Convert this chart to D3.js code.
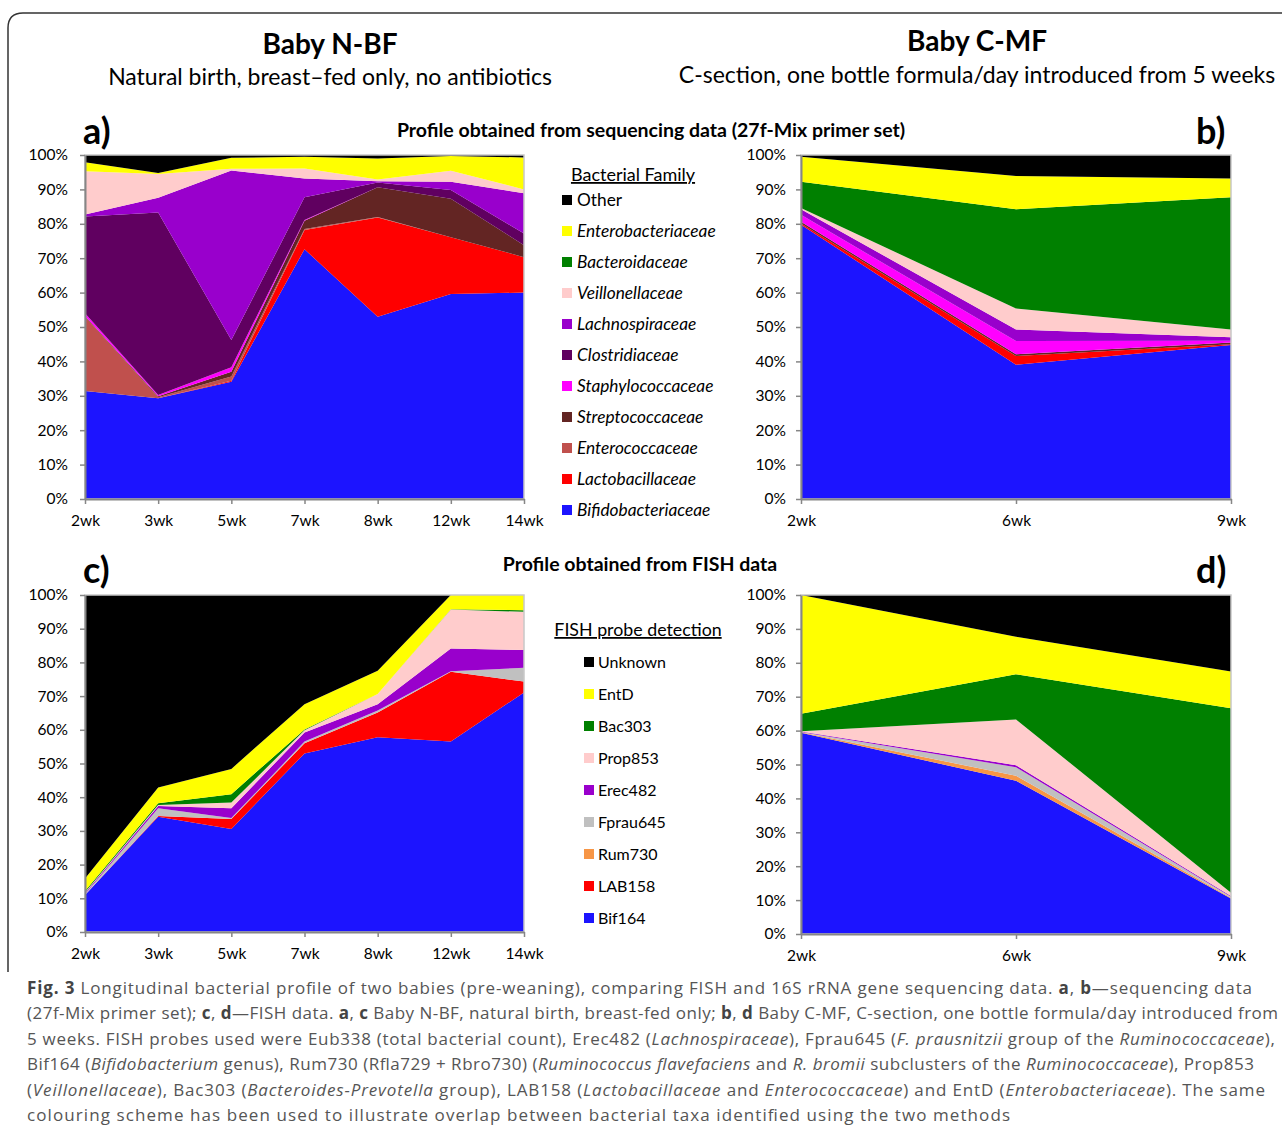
<!DOCTYPE html>
<html>
<head>
<meta charset="utf-8">
<script src="https://cdn.jsdelivr.net/npm/d3@7"></script>
<style>
  body { margin: 0; background: #fff; }
  svg text { font-family: Lato, "Open Sans", sans-serif; }
  .axis .domain { stroke: #868686; stroke-width: 2; }
  .axis .tick line { stroke: #868686; stroke-width: 1.5; }
  .axis .tick text { font-size: 15.5px; fill: #000; }
  .caption text { font-family: "Open Sans", sans-serif; font-size: 17px; fill: #555; }
</style>
</head>
<body>
<script>
// week categories
var weeksN = ["2wk", "3wk", "5wk", "7wk", "8wk", "12wk", "14wk"];
var weeksC = ["2wk", "6wk", "9wk"];

// sequencing families, bottom of the stack first
var families = ["Bifidobacteriaceae", "Lactobacillaceae", "Enterococcaceae", "Streptococcaceae",
    "Staphylococcaceae", "Clostridiaceae", "Lachnospiraceae", "Veillonellaceae",
    "Bacteroidaceae", "Enterobacteriaceae", "Other"];
var familyColours = ["#1c14ff", "#ff0000", "#c0504d", "#632523", "#ff00ff", "#600060",
    "#9900cc", "#ffcccc", "#008000", "#ffff00", "#000000"];

// a) Baby N-BF, sequencing (% per family, rows follow families)
var seqN = [
    [31.4, 29.3, 34.1, 72.6, 53.0, 59.6, 60.0],
    [0, 0, 0.3, 5.6, 28.8, 16.5, 10.3],
    [21.6, 0.3, 1.2, 0.3, 0.2, 0, 0],
    [0.2, 0.3, 1.4, 2.4, 8.6, 11.2, 3.5],
    [0.8, 0.3, 1.3, 0.2, 0, 0, 0],
    [28.1, 53.1, 7.9, 6.6, 1.4, 2.5, 3.4],
    [0.6, 4.3, 49.3, 5.5, 0.4, 2.4, 11.7],
    [12.6, 6.9, 0.5, 2.9, 0.5, 3.2, 1.1],
    [0, 0, 0, 0, 0, 0, 0],
    [2.6, 0.3, 3.2, 3.4, 6.1, 4.3, 9.3],
    [2.1, 5.2, 0.8, 0.5, 1.0, 0.3, 0.7]
];

// b) Baby C-MF, sequencing
var seqC = [
    [79.7, 39.0, 44.8],
    [0.4, 2.6, 0.2],
    [0, 0, 0],
    [0.5, 0.5, 0.5],
    [2.0, 3.8, 0.5],
    [0, 0, 0],
    [1.6, 3.4, 1.0],
    [0.4, 6.1, 2.3],
    [7.6, 28.8, 38.4],
    [7.3, 9.7, 5.5],
    [0.5, 6.1, 6.8]
];

// FISH probes, bottom of the stack first
var probes = ["Bif164", "LAB158", "Rum730", "Fprau645", "Erec482", "Prop853", "Bac303", "EntD", "Unknown"];
var probeColours = ["#1c14ff", "#ff0000", "#f79646", "#c0c0c0", "#9900cc", "#ffcccc", "#008000", "#ffff00", "#000000"];

// c) Baby N-BF, FISH
var fishN = [
    [11.0, 34.2, 30.6, 53.0, 57.8, 56.5, 71.1],
    [0, 0.2, 2.9, 3.0, 7.3, 20.7, 3.2],
    [0, 0, 0, 0, 0, 0, 0],
    [0.3, 2.3, 0.3, 0.5, 0.6, 0.2, 4.1],
    [0.3, 0.7, 2.9, 2.7, 1.9, 6.7, 5.3],
    [0.2, 0.3, 1.7, 0.7, 3.0, 11.6, 11.3],
    [0.4, 0.5, 2.5, 0.2, 0, 0.1, 0.5],
    [3.7, 4.7, 7.5, 7.5, 6.9, 4.2, 4.5],
    [84.1, 57.1, 51.6, 32.4, 22.5, 0, 0]
];

// d) Baby C-MF, FISH
var fishC = [
    [59.4, 45.2, 10.5],
    [0, 0, 0],
    [0.1, 1.5, 0.2],
    [0.1, 2.5, 0.3],
    [0.1, 0.6, 0.2],
    [0.1, 13.5, 1.0],
    [5.2, 13.3, 54.4],
    [35.0, 11.1, 10.8],
    [0, 12.3, 22.6]
];

var yTicks = d3.range(0, 101, 10);

var svg = d3.select("body").append("svg")
    .attr("width", 1282)
    .attr("height", 1136);

// frame round the figure
svg.append("path")
    .attr("d", "M8,972 L8,28 Q8,13 23,13 L1290,13")
    .attr("fill", "none")
    .attr("stroke", "#333")
    .attr("stroke-width", 1.5);

function drawPanel(p) {
    var g = svg.append("g");
    var x = d3.scalePoint().domain(p.weeks).range([p.left, p.right]);
    var y = d3.scaleLinear().domain([0, 100]).range([p.bottom, p.top]);

    var table = p.weeks.map(function (w, i) {
        var row = { week: w };
        p.keys.forEach(function (k, j) { row[k] = p.values[j][i]; });
        return row;
    });
    var series = d3.stack().keys(p.keys)(table);

    var area = d3.area()
        .x(function (d) { return x(d.data.week); })
        .y0(function (d) { return y(d[0]); })
        .y1(function (d) { return y(Math.min(d[1], 100)); });

    g.selectAll("path.layer")
        .data(series)
        .enter().append("path")
        .attr("class", "layer")
        .attr("fill", function (d, i) { return p.colours[i]; })
        .attr("d", area);

    // plot area border
    g.append("rect")
        .attr("x", p.left).attr("y", p.top)
        .attr("width", p.right - p.left).attr("height", p.bottom - p.top)
        .attr("fill", "none")
        .attr("stroke", "#c8c8c8")
        .attr("stroke-width", 1.5);

    g.append("g")
        .attr("class", "axis")
        .attr("transform", "translate(" + p.left + ",0)")
        .call(d3.axisLeft(y).tickValues(yTicks).tickFormat(function (d) { return d + "%"; })
            .tickSize(5).tickSizeOuter(0).tickPadding(p.yPad));

    g.append("g")
        .attr("class", "axis")
        .attr("transform", "translate(0," + p.bottom + ")")
        .call(d3.axisBottom(x).tickSize(5).tickSizeOuter(0).tickPadding(11));

    g.selectAll(".axis").attr("font-family", null);
}

drawPanel({ weeks: weeksN, keys: families, values: seqN, colours: familyColours,
    left: 85, right: 524, top: 155, bottom: 499, yPad: 12 });
drawPanel({ weeks: weeksC, keys: families, values: seqC, colours: familyColours,
    left: 801, right: 1231, top: 155, bottom: 499, yPad: 10 });
drawPanel({ weeks: weeksN, keys: probes, values: fishN, colours: probeColours,
    left: 85, right: 524, top: 595, bottom: 932, yPad: 12 });
drawPanel({ weeks: weeksC, keys: probes, values: fishC, colours: probeColours,
    left: 801, right: 1231, top: 595, bottom: 934, yPad: 10 });

// headings
function label(txt, x, y, size, weight, anchor) {
    return svg.append("text")
        .attr("x", x).attr("y", y)
        .attr("font-size", size)
        .attr("font-weight", weight || "normal")
        .attr("text-anchor", anchor || "middle")
        .text(txt);
}
label("Baby N-BF", 330, 54, 28, "bold");
label("Natural birth, breast\u2013fed only, no antibiotics", 330, 85, 23);
label("Baby C-MF", 977, 51, 28, "bold");
label("C-section, one bottle formula/day introduced from 5 weeks", 977, 83, 23);
label("a)", 83, 144, 36, "bold", "start");
label("b)", 1196, 144, 36, "bold", "start");
label("c)", 83, 583, 36, "bold", "start");
label("d)", 1196, 583, 36, "bold", "start");
label("Profile obtained from sequencing data (27f-Mix primer set)", 651, 137, 19.5, "bold");
label("Profile obtained from FISH data", 640, 571, 19.5, "bold");

// legend for the sequencing panels (top of stack first)
label("Bacterial Family", 633, 181, 18).attr("text-decoration", "underline");
var famLegend = families.slice().reverse();
var famLegendCol = familyColours.slice().reverse();
famLegend.forEach(function (name, i) {
    var cy = 200 + i * 31;
    svg.append("rect").attr("x", 562).attr("y", cy - 5).attr("width", 10).attr("height", 10)
        .attr("fill", famLegendCol[i]);
    svg.append("text").attr("x", 577).attr("y", cy + 6)
        .attr("font-size", 17.3)
        .attr("font-style", name === "Other" ? "normal" : "italic")
        .text(name);
});

// legend for the FISH panels
label("FISH probe detection", 638, 636, 17.8).attr("text-decoration", "underline");
var probeLegend = probes.slice().reverse();
var probeLegendCol = probeColours.slice().reverse();
probeLegend.forEach(function (name, i) {
    var cy = 662 + i * 32;
    svg.append("rect").attr("x", 584).attr("y", cy - 5).attr("width", 10).attr("height", 10)
        .attr("fill", probeLegendCol[i]);
    svg.append("text").attr("x", 598).attr("y", cy + 6)
        .attr("font-size", 16)
        .text(name);
});

// caption, one entry per line: [text, style] pieces
var captionLines = [
    [["Fig. 3", "b"], [" Longitudinal bacterial profile of two babies (pre-weaning), comparing FISH and 16S rRNA gene sequencing data. ", ""],
        ["a", "b"], [", ", ""], ["b", "b"], ["\u2014sequencing data", ""]],
    [["(27f-Mix primer set); ", ""], ["c", "b"], [", ", ""], ["d", "b"], ["\u2014FISH data. ", ""], ["a", "b"], [", ", ""], ["c", "b"],
        [" Baby N-BF, natural birth, breast-fed only; ", ""], ["b", "b"], [", ", ""], ["d", "b"],
        [" Baby C-MF, C-section, one bottle formula/day introduced from", ""]],
    [["5 weeks. FISH probes used were Eub338 (total bacterial count), Erec482 (", ""], ["Lachnospiraceae", "i"],
        ["), Fprau645 (", ""], ["F. prausnitzii", "i"], [" group of the ", ""], ["Ruminococcaceae", "i"], ["),", ""]],
    [["Bif164 (", ""], ["Bifidobacterium", "i"], [" genus), Rum730 (Rfla729 + Rbro730) (", ""], ["Ruminococcus flavefaciens", "i"],
        [" and ", ""], ["R. bromii", "i"], [" subclusters of the ", ""], ["Ruminococcaceae", "i"], ["), Prop853", ""]],
    [["(", ""], ["Veillonellaceae", "i"], ["), Bac303 (", ""], ["Bacteroides-Prevotella", "i"], [" group), LAB158 (", ""],
        ["Lactobacillaceae", "i"], [" and ", ""], ["Enterococcaceae", "i"], [") and EntD (", ""], ["Enterobacteriaceae", "i"],
        ["). The same", ""]],
    [["colouring scheme has been used to illustrate overlap between bacterial taxa identified using the two methods", ""]]
];
var captionWidths = [1225, 1251, 1248, 1227, 1238, 983];

var cap = svg.append("g").attr("class", "caption");
captionLines.forEach(function (line, i) {
    var t = cap.append("text")
        .attr("x", 27)
        .attr("y", 994 + i * 25.4)
        .attr("textLength", captionWidths[i])
        .attr("lengthAdjust", "spacing");
    line.forEach(function (piece) {
        var s = t.append("tspan").text(piece[0]);
        if (piece[1] === "b") s.attr("font-weight", "bold").style("fill", "#444");
        if (piece[1] === "i") s.attr("font-style", "italic");
    });
});
</script>
</body>
</html>
